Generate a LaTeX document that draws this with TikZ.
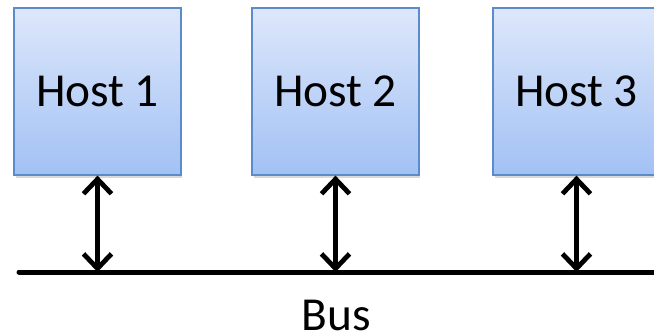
\documentclass[tikz,border=0pt]{standalone}
\usepackage{fontspec}
\setmainfont{Carlito}
\usetikzlibrary{arrows.meta,shadows}
\definecolor{boxtop}{HTML}{DDE7FB}
\definecolor{boxbot}{HTML}{A2C1F4}
\definecolor{boxline}{HTML}{5B8BC8}
\tikzset{
  host/.style={draw=boxline, line width=1.2pt, top color=boxtop, bottom color=boxbot,
    minimum width=125pt, minimum height=125pt, inner sep=0pt,
    font=\fontsize{35.5}{40}\selectfont,
    drop shadow={shadow xshift=1pt, shadow yshift=-2pt, opacity=0.25, fill=black!60}},
  barb/.tip={Straight Barb[length=11pt,width=21pt,line width=3.6pt]},
  link/.style={line width=3.6pt, barb-barb},
  busline/.style={line width=3.75pt, line cap=round},
  buslabel/.style={font=\fontsize{35.5}{40}\selectfont, inner sep=0pt}
}
\begin{document}
\begin{tikzpicture}[x=0.75pt,y=-0.75pt]
\useasboundingbox (0,0) rectangle (654,335);
\clip (0,0) rectangle (654,335);
\node[host] (h1) at (97.5,91.5) {Host 1};
\node[host] (h2) at (335.5,91.5) {Host 2};
\node[host] (h3) at (576.5,91.5) {Host 3};
\coordinate (bl) at (19,272);
\coordinate (br) at (670,272);
\coordinate (b1) at (97.5,272);
\coordinate (b2) at (335.5,272);
\coordinate (b3) at (576.5,272);
\draw[busline] (bl) -- (br);
\draw[link] (h1.south) -- (b1);
\draw[link] (h2.south) -- (b2);
\draw[link] (h3.south) -- (b3);
\node[buslabel, anchor=base] (bus) at (336,330.5) {Bus};
\end{tikzpicture}
\end{document}
